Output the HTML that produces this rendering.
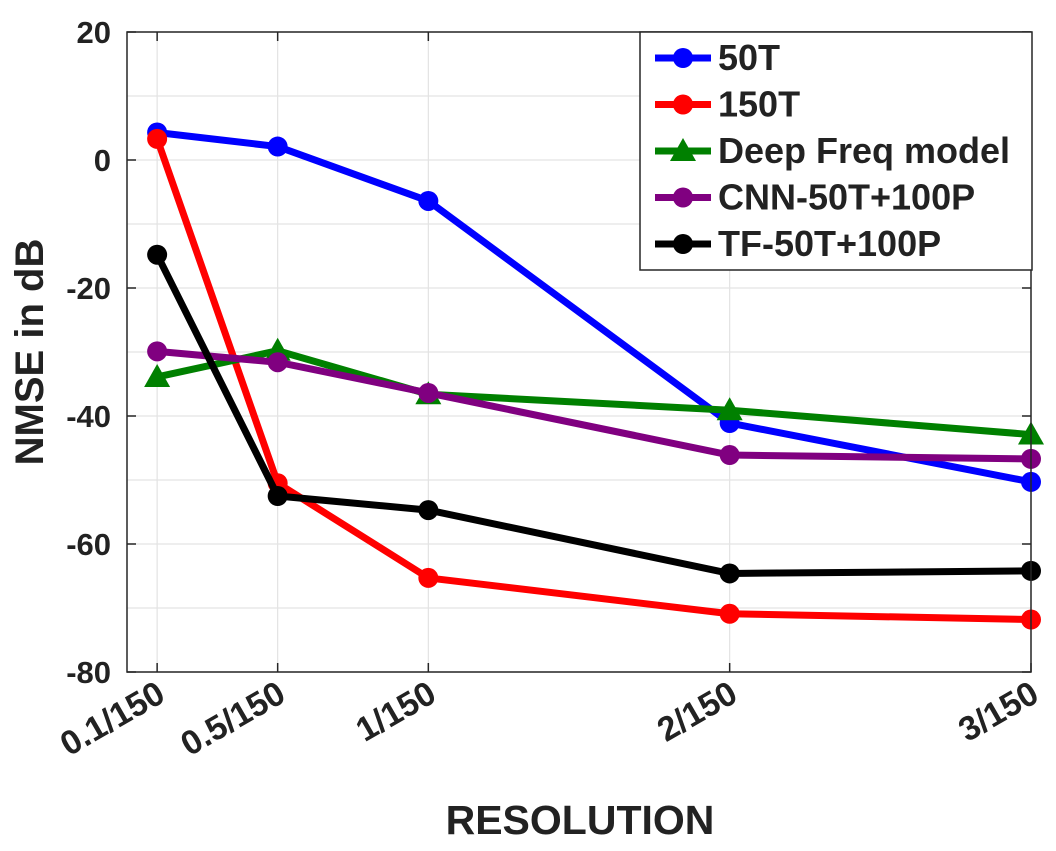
<!DOCTYPE html>
<html><head><meta charset="utf-8"><style>
body{margin:0;background:#fff;}
svg text{font-family:"Liberation Sans",Arial,sans-serif;font-weight:bold;fill:#222;}
</style></head><body>
<svg id="chart" width="1056" height="846" xmlns="http://www.w3.org/2000/svg">
<g id="grid"></g>
<g id="series"></g>
<g id="axes"></g>
<g id="legend"></g>
</svg>
<script>
const categories=["0.1/150","0.5/150","1/150","2/150","3/150"];
const xVals=[0.1,0.5,1,2,3];
const s50T=[4.3,2.1,-6.4,-41.1,-50.3];
const s150T=[3.3,-50.5,-65.3,-70.9,-71.8];
const sDeep=[-33.9,-29.8,-36.6,-39.1,-42.9];
const sCNN=[-29.9,-31.6,-36.4,-46.1,-46.7];
const sTF=[-14.8,-52.5,-54.7,-64.6,-64.2];
const yTicks=[20,0,-20,-40,-60,-80];
const seriesNames=["50T","150T","Deep Freq model","CNN-50T+100P","TF-50T+100P"];
const seriesColors=["#0000ff","#ff0000","#008000","#800080","#000000"];
const seriesMarkers=["circle","circle","triangle","circle","circle"];
const seriesData=[s50T,s150T,sDeep,sCNN,sTF];

const L=127,R=1031,T=32,B=672;
const xs=v=>L+(v-0)/3*(R-L);
const ys=v=>T+(20-v)/100*(B-T);
const NS="http://www.w3.org/2000/svg";
function mk(tag,attrs,parent){const e=document.createElementNS(NS,tag);for(const k in attrs)e.setAttribute(k,attrs[k]);parent.appendChild(e);return e;}
const grid=document.getElementById('grid'),axes=document.getElementById('axes'),ser=document.getElementById('series'),leg=document.getElementById('legend');

mk('rect',{x:L,y:T,width:R-L,height:B-T,fill:'#fff'},grid);
for(let v=20;v>=-80;v-=10){const g=mk('line',{x1:L,x2:R,y1:ys(v),y2:ys(v),stroke:'#e3e3e3','stroke-width':1.2},grid);

}
xVals.forEach(v=>{const g=mk('line',{x1:xs(v),x2:xs(v),y1:T,y2:B,stroke:'#e3e3e3','stroke-width':1.2},grid);

});

mk('rect',{x:L,y:T,width:R-L,height:B-T,fill:'none',stroke:'#262626','stroke-width':1.5},axes);
yTicks.forEach(v=>{
 mk('line',{x1:L,x2:L+9,y1:ys(v),y2:ys(v),stroke:'#262626','stroke-width':1.5},axes);
 mk('line',{x1:R,x2:R-9,y1:ys(v),y2:ys(v),stroke:'#262626','stroke-width':1.5},axes);
 const t=mk('text',{x:L-16,y:ys(v)+11,'text-anchor':'end','font-size':31},axes);t.textContent=v;
 
 
});
xVals.forEach((v,i)=>{
 mk('line',{x1:xs(v),x2:xs(v),y1:B,y2:B-9,stroke:'#262626','stroke-width':1.5},axes);
 mk('line',{x1:xs(v),x2:xs(v),y1:T,y2:T+9,stroke:'#262626','stroke-width':1.5},axes);
 const x=xs(v)+10,y=B+28;
 const t=mk('text',{x:x,y:y,'text-anchor':'end','font-size':34,transform:`rotate(-30 ${x} ${y})`},axes);t.textContent=categories[i];
 
 
});
const yl=mk('text',{x:43,y:352,'text-anchor':'middle','font-size':40,transform:`rotate(-90 43 352)`},axes);yl.textContent="NMSE in dB";


const xl=mk('text',{x:580,y:834,'text-anchor':'middle','font-size':41},axes);xl.textContent="RESOLUTION";



function marker(type,cx,cy,color,parent){
 if(type==='triangle'){return mk('polygon',{points:`${cx},${cy-13} ${cx-13},${cy+10} ${cx+13},${cy+10}`,fill:color},parent);}
 return mk('circle',{cx:cx,cy:cy,r:10,fill:color},parent);
}
seriesData.forEach((d,si)=>{
 const g=mk('g',{},ser);
 
 
 const pts=d.map((v,i)=>xs(xVals[i])+','+ys(v)).join(' ');
 mk('polyline',{points:pts,fill:'none',stroke:seriesColors[si],'stroke-width':7,'stroke-linejoin':'round'},g);
 d.forEach((v,i)=>{const m=marker(seriesMarkers[si],xs(xVals[i]),ys(v),seriesColors[si],g);
 
 });
});

mk('rect',{x:640,y:32,width:392,height:238,fill:'#fff',stroke:'#262626','stroke-width':1.5},leg);
seriesNames.forEach((n,i)=>{
 const y=58+i*46.5;
 const g=mk('g',{},leg);
 
 
 mk('line',{x1:655,x2:711,y1:y,y2:y,stroke:seriesColors[i],'stroke-width':7},g);
 marker(seriesMarkers[i],683,y,seriesColors[i],g);
 const t=mk('text',{x:718,y:y+12,'font-size':36,fill:'#111'},g);t.textContent=n;
});
</script>
</body></html>
